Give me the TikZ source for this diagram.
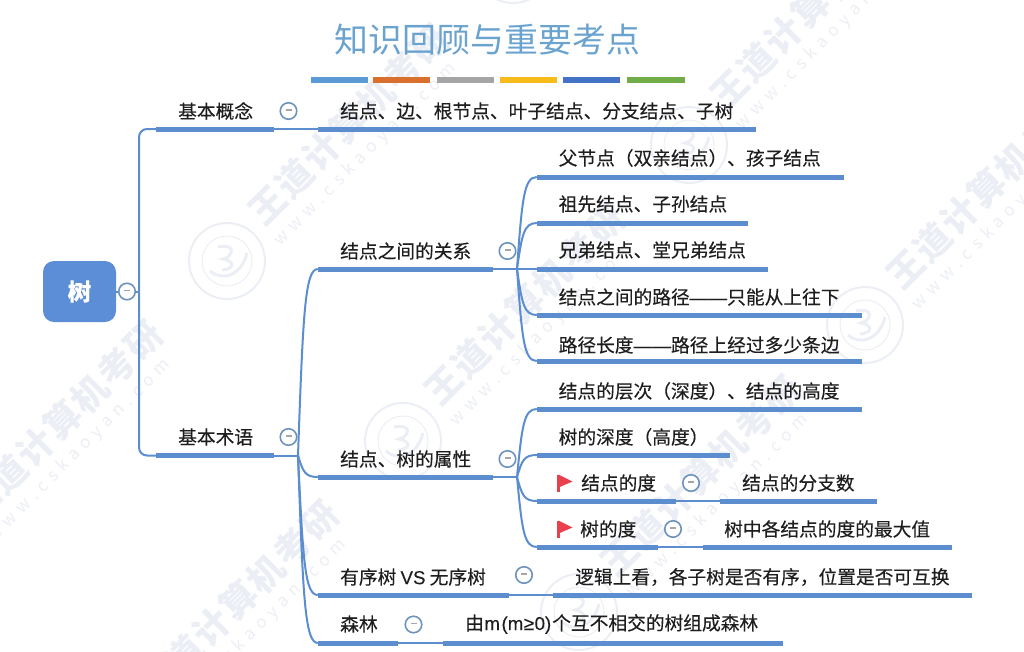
\documentclass[tikz,border=0pt]{standalone}
\usepackage{fontspec}
\setmainfont{Noto Sans CJK SC}[FakeBold=0.25]
\newfontfamily\plainf{Noto Sans CJK SC}
\newfontfamily\latf{Liberation Sans}[FakeBold=0.15]
\usetikzlibrary{calc}
\definecolor{linec}{HTML}{5B8DCF}
\definecolor{rootc}{HTML}{5B8ED6}
\definecolor{titlec}{HTML}{6BA3CF}
\definecolor{circc}{HTML}{6D93BC}
\definecolor{txtc}{HTML}{1E1E1E}
\definecolor{wm}{HTML}{ECEEF5}
\definecolor{flagc}{HTML}{E8404E}
\definecolor{cba}{HTML}{5B9BD5}
\definecolor{cbb}{HTML}{D9702E}
\definecolor{cbc}{HTML}{A5A5A5}
\definecolor{cbd}{HTML}{F5BC1C}
\definecolor{cbe}{HTML}{4472C4}
\definecolor{cbf}{HTML}{70AD47}
\tikzset{
  lbl/.style={anchor=west,inner sep=0pt,text=txtc,font=\fontsize{18.72}{20}\selectfont},
  barn/.style={fill=linec,inner sep=0pt,minimum height=5pt,rectangle},
  conn/.style={draw=linec,line width=2pt},
  minusc/.style={circle,draw=circc,fill=white,line width=1.6pt,minimum size=16.5pt,inner sep=0pt},
  colbar/.style={inner sep=0pt,minimum height=6.5pt,rectangle},
  wmtext/.style={rotate=45,anchor=west,inner sep=0pt,text=wm,font=\fontsize{36}{38}\plainf\bfseries},
  wmurl/.style={rotate=45,anchor=west,inner sep=0pt,text=wm,font=\fontsize{17}{18}\plainf},
}
\newcommand{\mybar}[4]{%
  \pgfmathsetmacro{\bw}{#3-#2}\pgfmathsetmacro{\bc}{(#3+#2)/2}%
  \node[barn,minimum width=\bw pt] (#1) at (\bc,#4) {};}
\newcommand{\mymin}[3]{\node[minusc] (#1) at (#2,#3) {\textcolor{gray!70}{\rule[0.35ex]{6pt}{1.3pt}}};}
\newcommand{\myflag}[2]{%
  \draw[flagc,line width=2.2pt] (#1,#2-8) -- (#1,#2+9);
  \fill[flagc] (#1,#2-8.5) -- (#1+14,#2-1.5) -- (#1,#2+4.5) -- cycle;}
\newcommand{\mywm}[2]{%
  \draw[wm,line width=2pt] (#1,#2) circle (38pt);
  \draw[wm,line width=1pt] (#1,#2) circle (25pt);
  \draw[wm,line width=3pt] (#1-17,#2+10) .. controls (#1-6,#2+20) and (#1+14,#2+16) .. (#1+20,#2-8);
  \draw[wm,line width=3pt] (#1-9,#2-14) .. controls (#1+10,#2-18) and (#1+6,#2-4) .. (#1-4,#2-2) .. controls (#1+8,#2) and (#1+8,#2+8) .. (#1-5,#2+9);
  \node[wmtext] at (#1+28,#2-43) {王\hspace{2pt}道\hspace{2pt}计\hspace{2pt}算\hspace{2pt}机\hspace{2pt}考\hspace{2pt}研};
  \node[wmurl] at (#1+50,#2-18) {w\hspace{6pt}w\hspace{6pt}w\hspace{6pt}.\hspace{6pt}c\hspace{6pt}s\hspace{6pt}k\hspace{6pt}a\hspace{6pt}o\hspace{6pt}y\hspace{6pt}a\hspace{6pt}n\hspace{6pt}.\hspace{6pt}c\hspace{6pt}o\hspace{6pt}m};}
% curved branch: from a fork coordinate to the west end of a bar
\newcommand{\mybranch}[2]{\draw[conn] (#1) .. controls ($(#1)!0.75!(#1|-#2.west)+(5,0)$) and ($(#2.west)+(-13,0)$) .. (#2.west);}
\begin{document}
\begin{tikzpicture}[x=1pt,y=-1pt]
\useasboundingbox (0,0) rectangle (1024,651);
\begin{scope}
\clip (0,0) rectangle (1024,651);
\mywm{227}{261}\mywm{403}{441}\mywm{579}{612}
\mywm{689}{145}\mywm{865}{325}\mywm{513}{-35}
\mywm{-59}{557}\mywm{117}{737}
\end{scope}
% title
\node[inner sep=0pt,text=titlec,font=\fontsize{33.9}{36}\plainf] (title) at (487.5,40) {知识回顾与重要考点};
\node[colbar,fill=cba,minimum width=57pt] (c1) at (339,80) {};
\node[colbar,fill=cbb,minimum width=57pt] (c2) at (401.5,80) {};
\node[colbar,fill=cbc,minimum width=57pt] (c3) at (465.5,80) {};
\node[colbar,fill=cbd,minimum width=57pt] (c4) at (528.5,80) {};
\node[colbar,fill=cbe,minimum width=57pt] (c5) at (591.5,80) {};
\node[colbar,fill=cbf,minimum width=58pt] (c6) at (656,80) {};
% root
\node[rounded corners=11pt,fill=rootc,minimum width=73pt,minimum height=61pt,inner sep=0pt,text=white,font=\fontsize{23.5}{24}\selectfont\bfseries] (root) at (79.5,291.5) {\raisebox{-2pt}{树}};
% bars
\mybar{bgn}{156}{274}{129}
\mybar{bgnd}{318}{756}{129}
\mybar{bsy}{156}{274}{455.5}
\mybar{brel}{318}{493}{269}
\mybar{ra}{537}{844}{177}
\mybar{rb}{537}{748}{223}
\mybar{rc}{537}{768}{269}
\mybar{rd}{537}{862}{315}
\mybar{re}{537}{862}{361}
\mybar{batt}{318}{493}{477}
\mybar{aa}{537}{862}{409}
\mybar{ab}{537}{730}{455}
\mybar{ac}{537}{676}{501}
\mybar{acd}{720}{877}{501}
\mybar{ad}{537}{658}{547}
\mybar{add}{703}{952}{547}
\mybar{bord}{318}{509}{595}
\mybar{bordd}{553}{972}{595}
\mybar{bsl}{318}{398}{643}
\mybar{bsld}{443}{783}{643}
% fork points
\coordinate (frt) at (139,291.5);
\coordinate (fsy) at (298,455.5);
\coordinate (frel) at (517,269);
\coordinate (fatt) at (517,477);
% connectors
\draw[conn] (root.east) -- (frt);
\draw[conn,rounded corners=8pt] (frt) |- (bgn.west);
\draw[conn,rounded corners=8pt] (frt) |- (bsy.west);
\draw[conn] (bgn.east) -- (bgnd.west);
\draw[conn] (bsy.east) -- (fsy);
\draw[conn] (brel.east) -- (frel);
\draw[conn] (batt.east) -- (fatt);
\draw[conn] (ac.east) -- (acd.west);
\draw[conn] (ad.east) -- (add.west);
\draw[conn] (bord.east) -- (bordd.west);
\draw[conn] (bsl.east) -- (bsld.west);
\mybranch{fsy}{brel}
\mybranch{fsy}{batt}
\mybranch{fsy}{bord}
\mybranch{fsy}{bsl}
\mybranch{frel}{ra}
\mybranch{frel}{rb}
\mybranch{frel}{rc}
\mybranch{frel}{rd}
\mybranch{frel}{re}
\mybranch{fatt}{aa}
\mybranch{fatt}{ab}
\mybranch{fatt}{ac}
\mybranch{fatt}{ad}
% collapse marks
\mymin{m0}{127}{291.5}
\mymin{m1}{288.5}{111}
\mymin{m2}{288.5}{437}
\mymin{m3}{507.5}{251}
\mymin{m4}{507.5}{459}
\mymin{m5}{691}{483}
\mymin{m6}{673}{529}
\mymin{m7}{524}{575}
\mymin{m8}{413.5}{624.5}
% flags
\myflag{558.5}{483}
\myflag{558.5}{529}
% labels
\node[lbl] (t1) at (178,111) {基本概念};
\node[lbl] (t2) at (340,111) {结点、边、根节点、叶子结点、分支结点、子树};
\node[lbl] (t3) at (178,437) {基本术语};
\node[lbl] (t4) at (340,251) {结点之间的关系};
\node[lbl] (t5) at (558.5,158) {父节点（双亲结点）、孩子结点};
\node[lbl] (t6) at (558.5,204) {祖先结点、子孙结点};
\node[lbl] (t7) at (558.5,250) {兄弟结点、堂兄弟结点};
\node[lbl] (t8) at (558.5,297) {结点之间的路径{\latf ——}只能从上往下};
\node[lbl] (t9) at (558.5,345) {路径长度{\latf ——}路径上经过多少条边};
\node[lbl] (t10) at (340,459) {结点、树的属性};
\node[lbl] (t11) at (558.5,391) {结点的层次（深度）、结点的高度};
\node[lbl] (t12) at (558.5,437) {树的深度（高度）};
\node[lbl] (t13) at (581,483) {结点的度};
\node[lbl] (t14) at (742,483) {结点的分支数};
\node[lbl] (t15) at (580,529) {树的度};
\node[lbl] (t16) at (724,529) {树中各结点的度的最大值};
\node[lbl] (t17) at (340,577) {有序树 {\latf VS} 无序树};
\node[lbl] (t18) at (575,577) {逻辑上看，各子树是否有序，位置是否可互换};
\node[lbl] (t19) at (340,624) {森林};
\node[lbl] (t20) at (465,624) {由{\latf \hspace{0.5pt}m\hspace{1.5pt}(m\hspace{0.5pt}≥\hspace{0.5pt}0)}\hspace{1pt}个互不相交的树组成森林};
\end{tikzpicture}
\end{document}
